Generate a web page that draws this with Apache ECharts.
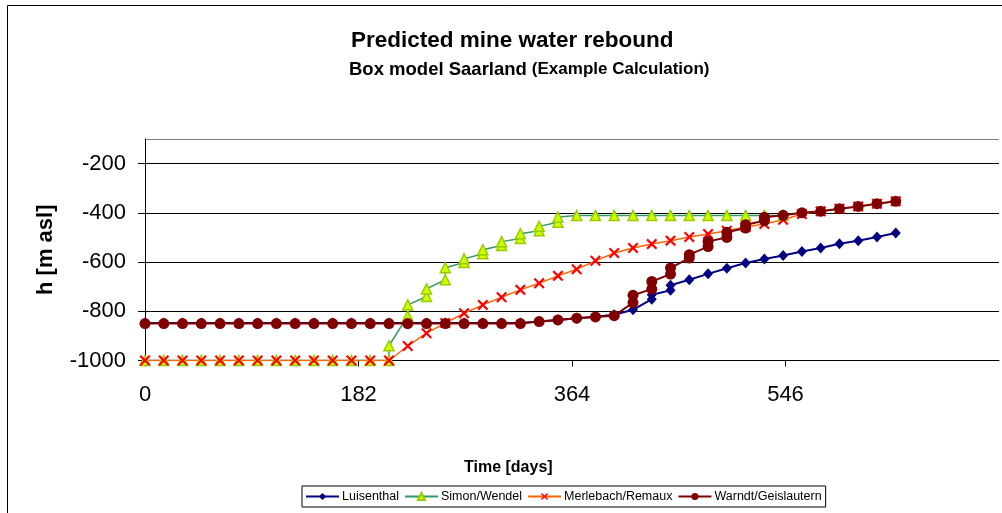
<!DOCTYPE html>
<html><head><meta charset="utf-8">
<script src="https://cdn.jsdelivr.net/npm/echarts@6/dist/echarts.min.js"></script>
<style>html,body{margin:0;padding:0;background:#fff}#c{width:1002px;height:513px}</style>
</head><body><div id="c"></div>
<script>
// Time steps (days)
const days = [0,16,32,48,64,80,96,112,128,144,160,176,192,208,224,240,256,272,288,304,320,336,352,368,384,400,416,432,448,464,480,496,512,528,544,560,576,592,608,624,640];
const xTicks = [0,182,364,546];
const yTicks = [-1000,-800,-600,-400,-200];
const seriesNames = ['Luisenthal','Simon/Wendel','Merlebach/Remaux','Warndt/Geislautern'];
// Water level h [m asl]; a pair = two values at the same time step
const luisenthal = [-848,-848,-848,-848,-848,-848,-848,-848,-848,-848,-848,-848,-848,-848,-848,-848,-848,-848,-848,-848,-848,
  -842,-835,-828,-822,-814,-794,[-751,-733],[-715,-694],-672,-648,-625,-604,-588,-573,-557,-543,-526,-513,-498,-482];
const simonWendel = [-1000,-1000,-1000,-1000,-1000,-1000,-1000,-1000,-1000,-1000,-1000,-1000,-1000,[-1000,-940],
  [-819,-774],[-740,-709],[-672,-623],[-602,-587],[-566,-550],[-533,-517],[-504,-485],[-473,-455],[-438,-417],
  -411,-411,-411,-411,-411,-411,-411,-411,-411,-411,-411,-411];
const merlebachRemaux = [-1000,-1000,-1000,-1000,-1000,-1000,-1000,-1000,-1000,-1000,-1000,-1000,-1000,-1000,
  -941,-889,-848,-808,-774,-743,-713,-686,-656,-629,-595,-563,-543,-527,-513,-498,-486,-473,-458,-445,-428,
  -405,-394,-383,-374,-363,-353];
const warndtGeislautern = [-850,-850,-850,-850,-850,-850,-850,-850,-850,-850,-850,-850,-850,-850,-850,-850,-850,-850,-850,-850,-850,
  -842,-835,-828,-823,-818,[-765,-735],[-710,-679],[-649,-624],[-584,-570],[-537,-516],[-500,-479],[-462,-448],[-432,-418],
  -410,-400,-394,-383,-374,-363,-353];

function toPoints(vals){
  const pts = [];
  vals.forEach((v,i)=>{
    if (Array.isArray(v)) v.forEach(w=>pts.push([days[i], w]));
    else if (v != null) pts.push([days[i], v]);
  });
  return pts;
}
const FONT = "'Liberation Sans', Arial, sans-serif";
const xSym = 'path://M0,1.4 L1.4,0 L5,3.6 L8.6,0 L10,1.4 L6.4,5 L10,8.6 L8.6,10 L5,6.4 L1.4,10 L0,8.6 L3.6,5 Z';

const chart = echarts.init(document.getElementById('c'), null, {renderer:'canvas'});
chart.setOption({
  animation:false,
  backgroundColor:'#fff',
  title:[
    {text:'Predicted mine water rebound', left:346, top:24,
     textStyle:{fontFamily:FONT, fontSize:22.5, fontWeight:'bold', color:'#000'}},
    {text:'{a|Box model Saarland} {b|(Example Calculation)}', left:344, top:55,
     textStyle:{rich:{a:{fontFamily:FONT, fontSize:18.5, fontWeight:'bold', color:'#000'},
                      b:{fontFamily:FONT, fontSize:17, fontWeight:'bold', color:'#000'}}}},
    {text:'Time [days]', left:459, top:455,
     textStyle:{fontFamily:FONT, fontSize:16, fontWeight:'bold', color:'#000'}}
  ],
  graphic:[{type:'rect', shape:{x:7.5, y:5.5, width:1100, height:600},
            style:{fill:'none', stroke:'#000', lineWidth:1}, silent:true}],
  legend:{
    data:seriesNames, left:302, top:486, orient:'horizontal',
    borderColor:'#000', borderWidth:1, padding:[4,4,4,3], itemGap:5,
    itemWidth:33, itemHeight:9,
    textStyle:{fontFamily:FONT, fontSize:12.5, color:'#000', padding:[0,0,0,-2]}
  },
  grid:{left:145, top:139, width:854, height:221.5, containLabel:false},
  xAxis:{
    type:'value', min:0, max:728, interval:182,
    axisLine:{show:true, lineStyle:{color:'#000', width:1}},
    axisTick:{show:true, inside:false, length:6, lineStyle:{color:'#000'}},
    axisLabel:{fontFamily:FONT, fontSize:22, color:'#000', margin:23, showMaxLabel:false,
      formatter:v=> xTicks.includes(v) ? String(v) : ''},
    splitLine:{show:false}
  },
  yAxis:{
    type:'value', min:-1000, max:-100, interval:200,
    name:'h [m asl]', nameLocation:'middle', nameGap:88, nameRotate:90,
    nameTextStyle:{fontFamily:FONT, fontSize:22, fontWeight:'bold', color:'#000'},
    axisLine:{show:true, lineStyle:{color:'#000', width:1}},
    axisTick:{show:true, inside:false, length:7, lineStyle:{color:'#000'}},
    axisLabel:{fontFamily:FONT, fontSize:22, color:'#000', margin:19, showMaxLabel:false,
      formatter:v=> yTicks.includes(v) ? String(v) : ''},
    splitLine:{show:true, lineStyle:{color:['#000','#000','#000','#000','#000','#808080'], width:1}}
  },
  series:[
    {name:seriesNames[0], type:'line', data:toPoints(luisenthal), symbol:'diamond', symbolSize:[10,11],
     itemStyle:{color:'#000080'}, lineStyle:{color:'#000080', width:2}},
    {name:seriesNames[1], type:'line', data:toPoints(simonWendel), symbol:'triangle', symbolSize:10,
     itemStyle:{color:'#CCFF00', borderColor:'#99CC00', borderWidth:1.5}, lineStyle:{color:'#339966', width:1.5}},
    {name:seriesNames[2], type:'line', data:toPoints(merlebachRemaux), symbol:xSym, symbolSize:11,
     itemStyle:{color:'#FF0000'}, lineStyle:{color:'#FF6600', width:1.5}},
    {name:seriesNames[3], type:'line', data:toPoints(warndtGeislautern), symbol:'circle', symbolSize:11,
     itemStyle:{color:'#800000'}, lineStyle:{color:'#800000', width:2}}
  ]
});
</script></body></html>
